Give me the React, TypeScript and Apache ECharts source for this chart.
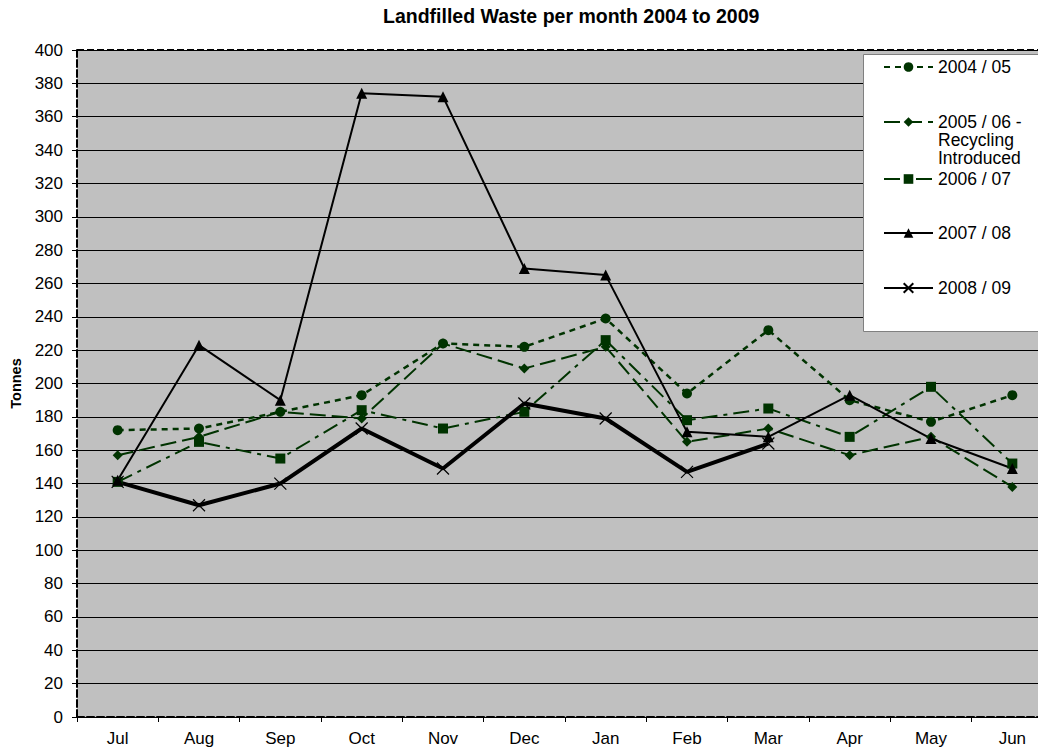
import React, { useEffect, useRef } from 'react';
import * as echarts from 'echarts';

const categories = ['Jul', 'Aug', 'Sep', 'Oct', 'Nov', 'Dec', 'Jan', 'Feb', 'Mar', 'Apr', 'May', 'Jun'];
const seriesNames = ['2004 / 05', '2005 / 06 - Recycling Introduced', '2006 / 07', '2007 / 08', '2008 / 09'];
const values2004 = [172, 173, 183, 193, 224, 222, 239, 194, 232, 190, 177, 193];
const values2005 = [157, 168, 183, 179, 224, 209, 222, 165, 173, 157, 168, 138];
const values2006 = [141, 165, 155, 184, 173, 183, 226, 178, 185, 168, 198, 152];
const values2007 = [142, 223, 190, 374, 372, 269, 265, 171, 168, 193, 167, 149];
const values2008 = [141, 127, 140, 173, 149, 188, 179, 147, 164];
const yTicks = { min: 0, max: 400, interval: 20 };

const FONT = 'Liberation Sans, Arial, sans-serif';
const GREEN = '#003300';
const X_PATH = 'path://M0,0L10,10M10,0L0,10';
const LEGEND_FS = 17.5;

function legendFor(name: string, top: number, extra: any = {}) {
  return {
    data: [name],
    left: 883,
    top,
    orient: 'vertical',
    padding: 0,
    itemWidth: 49,
    itemHeight: 12,
    itemGap: 5,
    selectedMode: false,
    textStyle: { fontSize: LEGEND_FS, fontFamily: FONT, color: '#000', lineHeight: 20 },
    ...extra,
  };
}

export default function App() {
  const ref = useRef<HTMLDivElement>(null);
  useEffect(() => {
    const chart = echarts.init(ref.current!, null, { renderer: 'svg' });
    const option: any = {
      animation: false,
      backgroundColor: '#fff',
      title: {
        text: 'Landfilled Waste per month 2004 to 2009',
        left: 383,
        top: 6,
        padding: 0,
        textStyle: { fontSize: 19.5, fontWeight: 'bold', fontFamily: FONT, color: '#000' },
      },
      grid: {
        left: 77,
        top: 50,
        width: 976,
        height: 667,
        show: true,
        backgroundColor: '#c0c0c0',
        borderWidth: 0,
      },
      graphic: [
        {
          type: 'line',
          shape: { x1: 77, y1: 50, x2: 1060, y2: 50 },
          style: { stroke: '#000', lineWidth: 2, lineDash: [7, 3] },
          z: 3,
        },
        {
          type: 'rect',
          shape: { x: 863.5, y: 54.5, width: 200, height: 277 },
          style: { fill: '#fff', stroke: '#808080', lineWidth: 1 },
          z: 3,
        },
      ],
      legend: [
        legendFor(seriesNames[0], 67 - 10),
        legendFor(seriesNames[1], 122 - 45, {
          formatter: () => '\n\n2005 / 06 -\nRecycling\nIntroduced',
          textStyle: { fontSize: LEGEND_FS, fontFamily: FONT, color: '#000', lineHeight: 18 },
        }),
        legendFor(seriesNames[2], 179 - 10),
        legendFor(seriesNames[3], 233 - 10),
        legendFor(seriesNames[4], 288 - 10),
      ],
      xAxis: {
        type: 'category',
        data: categories,
        boundaryGap: true,
        axisLine: { show: true, lineStyle: { color: '#000', width: 2, type: [7, 3] } },
        axisTick: { show: true, inside: false, length: 5, lineStyle: { color: '#000', width: 1 } },
        axisLabel: { fontSize: 17, fontFamily: FONT, color: '#000', margin: 13 },
        splitLine: { show: false },
      },
      yAxis: {
        type: 'value',
        min: yTicks.min,
        max: yTicks.max,
        interval: yTicks.interval,
        name: 'Tonnes',
        nameLocation: 'middle',
        nameGap: 52,
        nameTextStyle: { fontSize: 14.5, fontWeight: 'bold', fontFamily: FONT, color: '#000' },
        axisLine: { show: true, lineStyle: { color: '#000', width: 2, type: [7, 3] } },
        axisTick: { show: true, inside: false, length: 5, lineStyle: { color: '#000', width: 1 } },
        axisLabel: { fontSize: 17, fontFamily: FONT, color: '#000', margin: 14 },
        splitLine: { show: true, lineStyle: { color: '#000', width: 1 } },
      },
      series: [
        {
          name: seriesNames[0],
          type: 'line',
          data: values2004,
          symbol: 'circle',
          symbolSize: 10,
          lineStyle: { color: GREEN, width: 2.5, type: [6, 5] },
          itemStyle: { color: GREEN },
        },
        {
          name: seriesNames[1],
          type: 'line',
          data: values2005,
          symbol: 'diamond',
          symbolSize: 10,
          lineStyle: { color: GREEN, width: 2, type: [16, 6] },
          itemStyle: { color: GREEN },
        },
        {
          name: seriesNames[2],
          type: 'line',
          data: values2006,
          symbol: 'rect',
          symbolSize: 10,
          lineStyle: { color: GREEN, width: 2, type: [16, 6, 4, 6] },
          itemStyle: { color: GREEN },
        },
        {
          name: seriesNames[3],
          type: 'line',
          data: values2007,
          symbol: 'triangle',
          symbolSize: 11,
          lineStyle: { color: '#000', width: 2 },
          itemStyle: { color: '#000' },
        },
        {
          name: seriesNames[4],
          type: 'line',
          data: values2008,
          symbol: X_PATH,
          symbolSize: 12,
          lineStyle: { color: '#000', width: 4 },
          itemStyle: { color: '#000', borderColor: '#000', borderWidth: 1.2 },
        },
      ],
    };
    chart.setOption(option);
    return () => chart.dispose();
  }, []);
  return (
    <div style={{ position: 'absolute', left: 0, top: 0, width: 1038, height: 752, overflow: 'hidden' }}>
      <div ref={ref} style={{ width: 1060, height: 752 }} />
    </div>
  );
}
